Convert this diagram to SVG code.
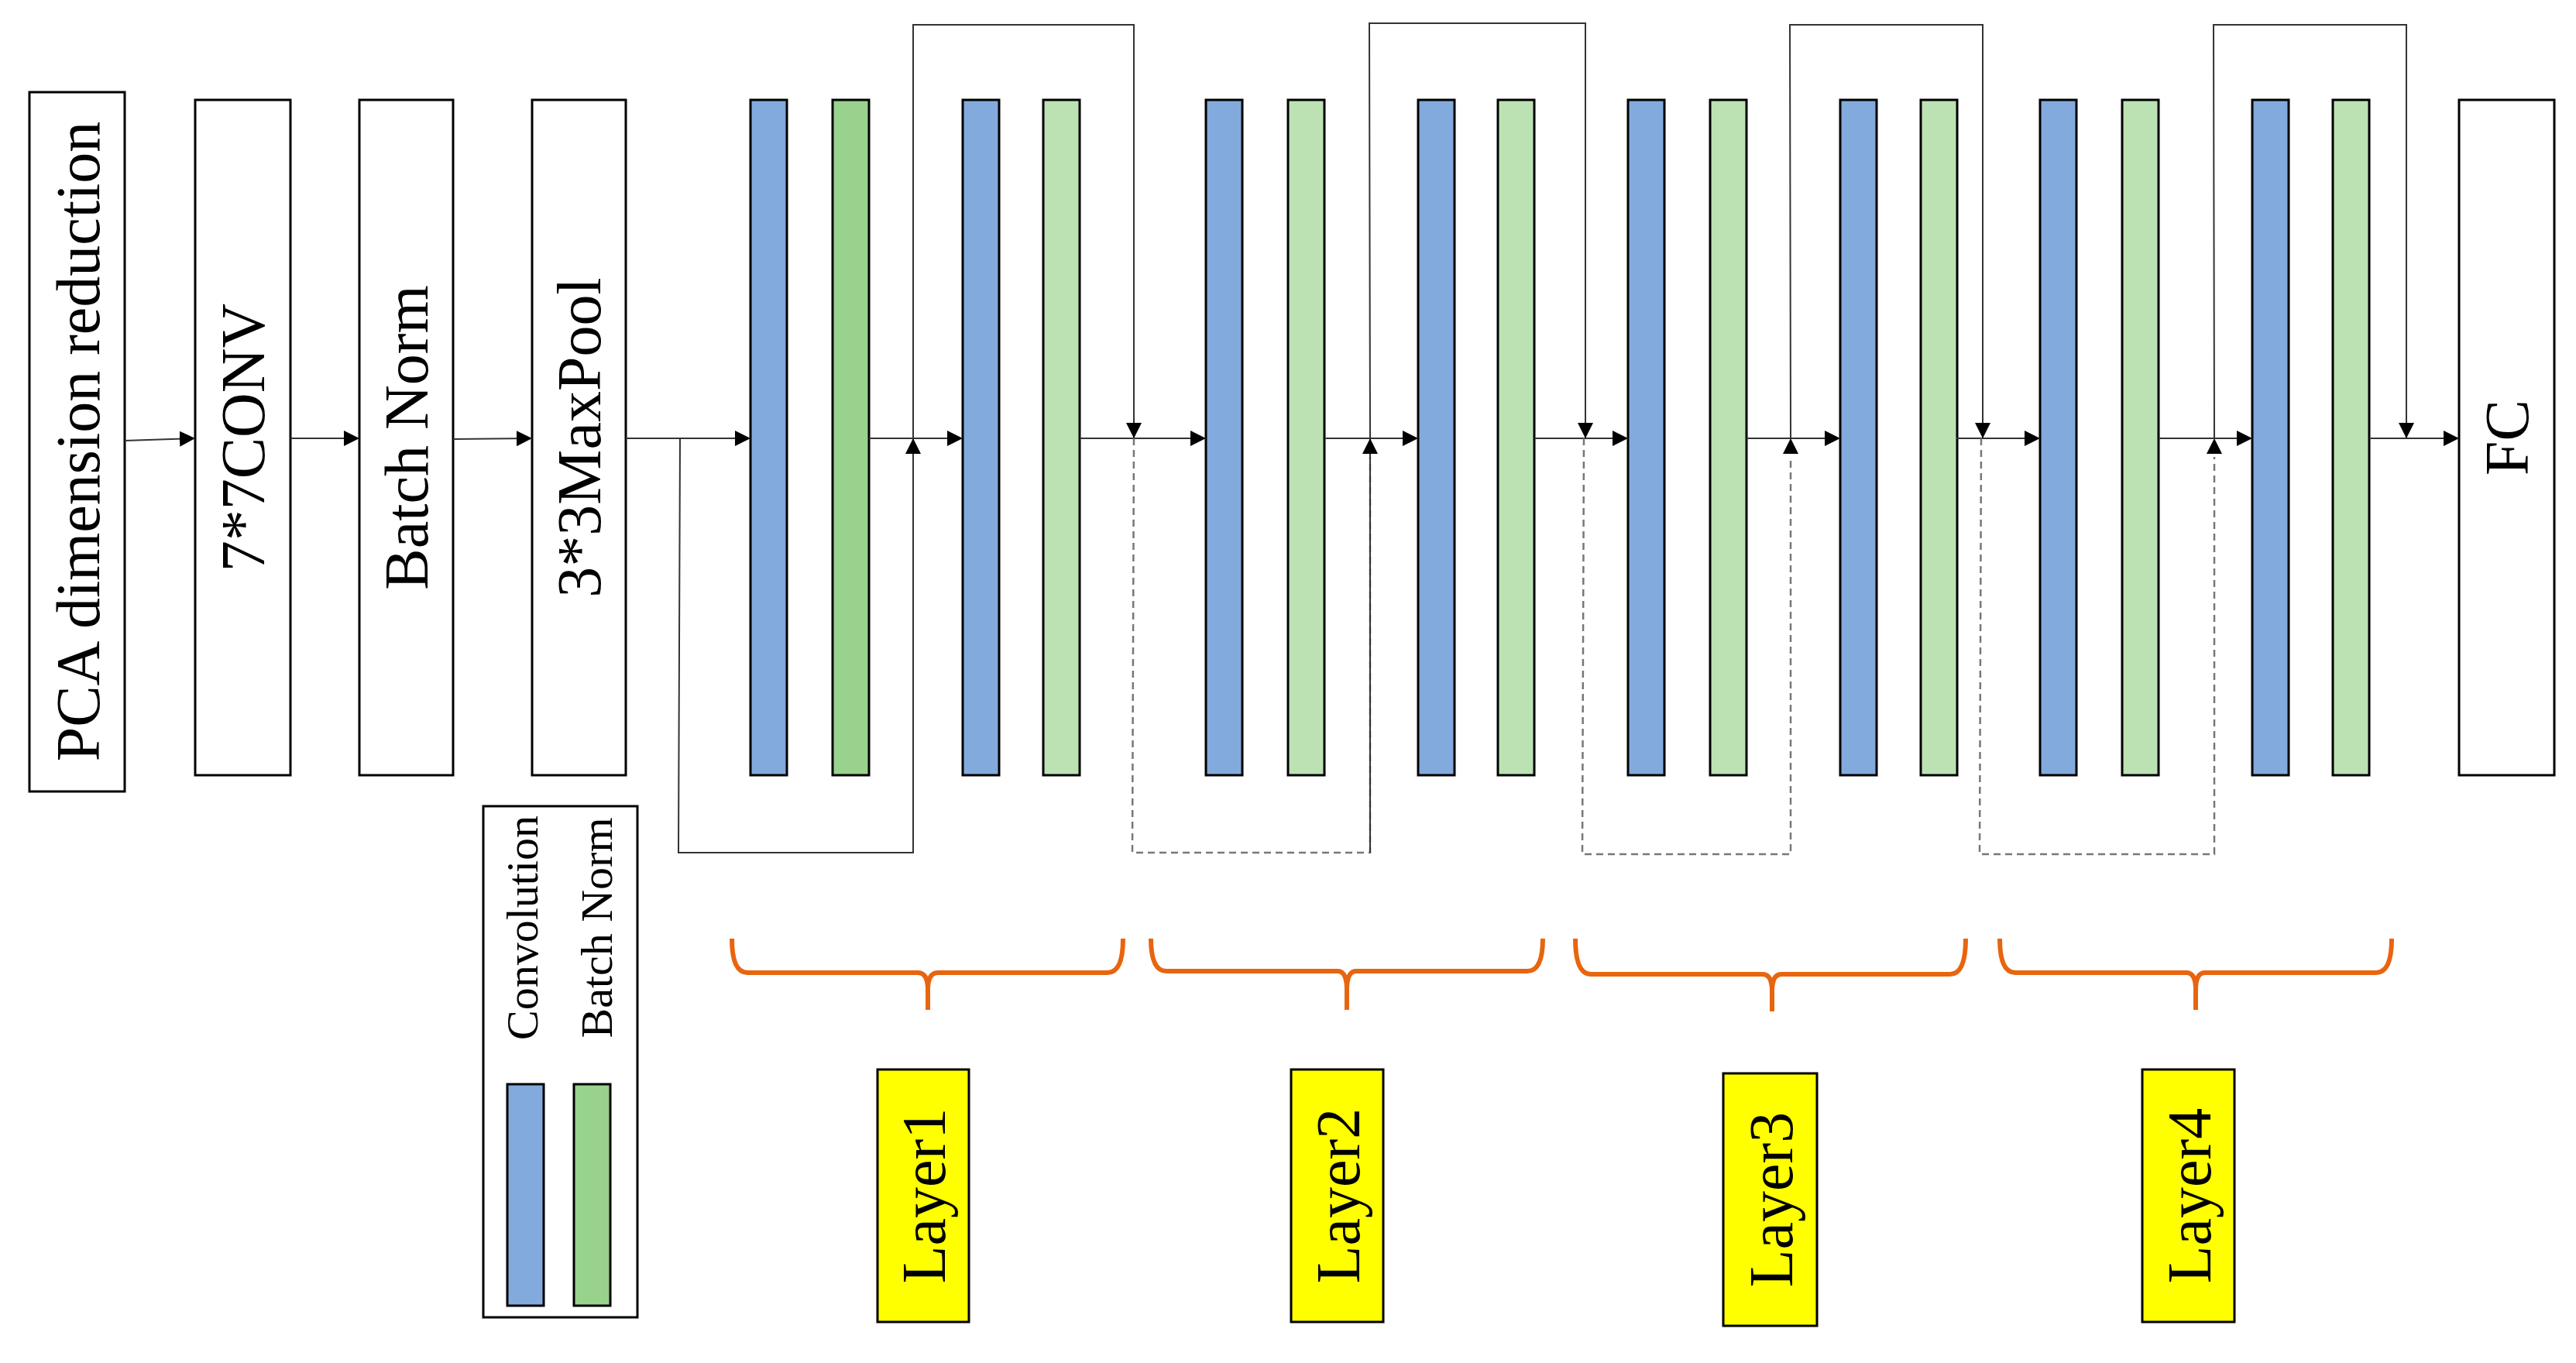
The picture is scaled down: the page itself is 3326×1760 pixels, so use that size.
<svg xmlns="http://www.w3.org/2000/svg" width="3326" height="1760" viewBox="0 0 3326 1760">
<style>
.box{fill:#fff;stroke:#000;stroke-width:3}
.cv{fill:#82aadc;stroke:#000;stroke-width:3}
.bn{fill:#bce2b4;stroke:#000;stroke-width:3}
.bn1{fill:#98d28c;stroke:#000;stroke-width:3}
.t{font-family:"Liberation Serif",serif;font-size:80px;fill:#000}
.ln{stroke:#333;stroke-width:2;fill:none}
.ds{stroke:#777;stroke-width:2.5;fill:none;stroke-dasharray:9 6}
.br{stroke:#e8650f;stroke-width:6;fill:none}
.yl{fill:#ffff00;stroke:#000;stroke-width:3}
</style>
<defs><marker id="a" markerWidth="10" markerHeight="10" refX="10" refY="5" orient="auto" markerUnits="userSpaceOnUse" viewBox="0 0 10 10"><path d="M0,0L10,5L0,10z" fill="#000"/></marker>
<marker id="b" markerWidth="20" markerHeight="20" refX="20" refY="10" orient="auto" markerUnits="userSpaceOnUse" viewBox="0 0 20 20"><path d="M0,0L20,10L0,20z" fill="#000"/></marker></defs>
<rect width="3326" height="1760" fill="#fff"/>
<g id="pca"><rect class="box" x="38" y="119" width="123" height="903"/><text class="t" transform="translate(128,570) rotate(-90)" text-anchor="middle">PCA dimension reduction</text></g>
<g id="conv7"><rect class="box" x="252" y="129" width="123" height="872"/><text class="t" transform="translate(341,565) rotate(-90)" text-anchor="middle">7*7CONV</text></g>
<g id="bnorm"><rect class="box" x="464" y="129" width="121" height="872"/><text class="t" transform="translate(552,565) rotate(-90)" text-anchor="middle">Batch Norm</text></g>
<g id="maxpool"><rect class="box" x="687" y="129" width="121" height="872"/><text class="t" transform="translate(775,565) rotate(-90)" text-anchor="middle">3*3MaxPool</text></g>
<g id="layer1-blocks"><rect class="cv" x="969" y="129" width="47" height="872"/><rect class="bn1" x="1075" y="129" width="47" height="872"/><rect class="cv" x="1243" y="129" width="47" height="872"/><rect class="bn" x="1347" y="129" width="47" height="872"/></g>
<g id="layer2-blocks"><rect class="cv" x="1557" y="129" width="47" height="872"/><rect class="bn" x="1663" y="129" width="47" height="872"/><rect class="cv" x="1831" y="129" width="47" height="872"/><rect class="bn" x="1934" y="129" width="47" height="872"/></g>
<g id="layer3-blocks"><rect class="cv" x="2102" y="129" width="47" height="872"/><rect class="bn" x="2208" y="129" width="47" height="872"/><rect class="cv" x="2376" y="129" width="47" height="872"/><rect class="bn" x="2480" y="129" width="47" height="872"/></g>
<g id="layer4-blocks"><rect class="cv" x="2634" y="129" width="47" height="872"/><rect class="bn" x="2740" y="129" width="47" height="872"/><rect class="cv" x="2908" y="129" width="47" height="872"/><rect class="bn" x="3012" y="129" width="47" height="872"/></g>
<g id="fc"><rect class="box" x="3175" y="129" width="123" height="872"/><text class="t" transform="translate(3264,565) rotate(-90)" text-anchor="middle">FC</text></g>
<g id="connectors">
<path class="ln" marker-end="url(#b)" d="M161,569L252,566"/>
<path class="ln" marker-end="url(#b)" d="M375,566L464,566"/>
<path class="ln" marker-end="url(#b)" d="M585,567L687,566"/>
<path class="ln" marker-end="url(#b)" d="M808,566L969,566"/>
<path class="ln" marker-end="url(#b)" d="M1122,566L1243,566"/>
<path class="ln" marker-end="url(#b)" d="M1394,566L1557,566"/>
<path class="ln" marker-end="url(#b)" d="M1710,566L1831,566"/>
<path class="ln" marker-end="url(#b)" d="M1981,566L2102,566"/>
<path class="ln" marker-end="url(#b)" d="M2255,566L2376,566"/>
<path class="ln" marker-end="url(#b)" d="M2526,566L2634,566"/>
<path class="ln" marker-end="url(#b)" d="M2787,566L2908,566"/>
<path class="ln" marker-end="url(#b)" d="M3059,566L3175,566"/>
<path class="ln" marker-end="url(#b)" d="M878,566L876,1101L1179,1101L1179,566"/>
<path class="ln" marker-end="url(#b)" d="M1179,566L1179,32L1464,32L1464,566"/>
<path class="ds" d="M1464,566L1462,1101L1769,1101L1769,590"/>
<path class="ln" marker-end="url(#b)" d="M1769,1101L1769,566"/>
<path class="ln" marker-end="url(#b)" d="M1769,566L1768,30L2047,30L2047,566"/>
<path class="ds" d="M2045,566L2043,1103L2312,1103L2312,590"/>
<path class="ln" marker-end="url(#b)" d="M2312,1103L2312,566" stroke-opacity="0"/>
<path class="ln" marker-end="url(#b)" d="M2312,566L2311,32L2560,32L2560,566"/>
<path class="ds" d="M2558,566L2556,1103L2859,1103L2859,590"/>
<path class="ln" marker-end="url(#b)" d="M2859,1103L2859,566" stroke-opacity="0"/>
<path class="ln" marker-end="url(#b)" d="M2859,566L2858,32L3107,32L3107,566"/>
</g>
<g id="braces">
<path class="br" d="M945,1212Q945,1256 965,1256L1185,1256Q1198,1256 1198,1278L1198,1304M1198,1278Q1198,1256 1211,1256L1430,1256Q1450,1256 1450,1212"/>
<path class="br" d="M1486,1212Q1486,1254 1506,1254L1727,1254Q1739,1254 1739,1278L1739,1304M1739,1278Q1739,1254 1751,1254L1972,1254Q1992,1254 1992,1212"/>
<path class="br" d="M2034,1212Q2034,1258 2054,1258L2276,1258Q2288,1258 2288,1280L2288,1306M2288,1280Q2288,1258 2300,1258L2518,1258Q2538,1258 2538,1212"/>
<path class="br" d="M2582,1212Q2582,1256 2602,1256L2823,1256Q2835,1256 2835,1278L2835,1304M2835,1278Q2835,1256 2847,1256L3068,1256Q3088,1256 3088,1212"/>
</g>
<g id="layer1"><rect class="yl" x="1133" y="1381" width="118" height="326"/><text class="t" transform="translate(1220,1544) rotate(-90)" text-anchor="middle">Layer1</text></g>
<g id="layer2"><rect class="yl" x="1667" y="1381" width="119" height="326"/><text class="t" transform="translate(1755,1544) rotate(-90)" text-anchor="middle">Layer2</text></g>
<g id="layer3"><rect class="yl" x="2225" y="1386" width="121" height="326"/><text class="t" transform="translate(2314,1549) rotate(-90)" text-anchor="middle">Layer3</text></g>
<g id="layer4"><rect class="yl" x="2766" y="1381" width="119" height="326"/><text class="t" transform="translate(2854,1544) rotate(-90)" text-anchor="middle">Layer4</text></g>
<g id="legend"><rect class="box" x="624" y="1041" width="199" height="660"/>
<text class="t" style="font-size:58px" transform="translate(694,1198) rotate(-90)" text-anchor="middle">Convolution</text>
<text class="t" style="font-size:58px" transform="translate(790,1198) rotate(-90)" text-anchor="middle">Batch Norm</text>
<rect class="cv" x="655" y="1400" width="47" height="286"/><rect class="bn1" x="741" y="1400" width="47" height="286"/></g>
</svg>
